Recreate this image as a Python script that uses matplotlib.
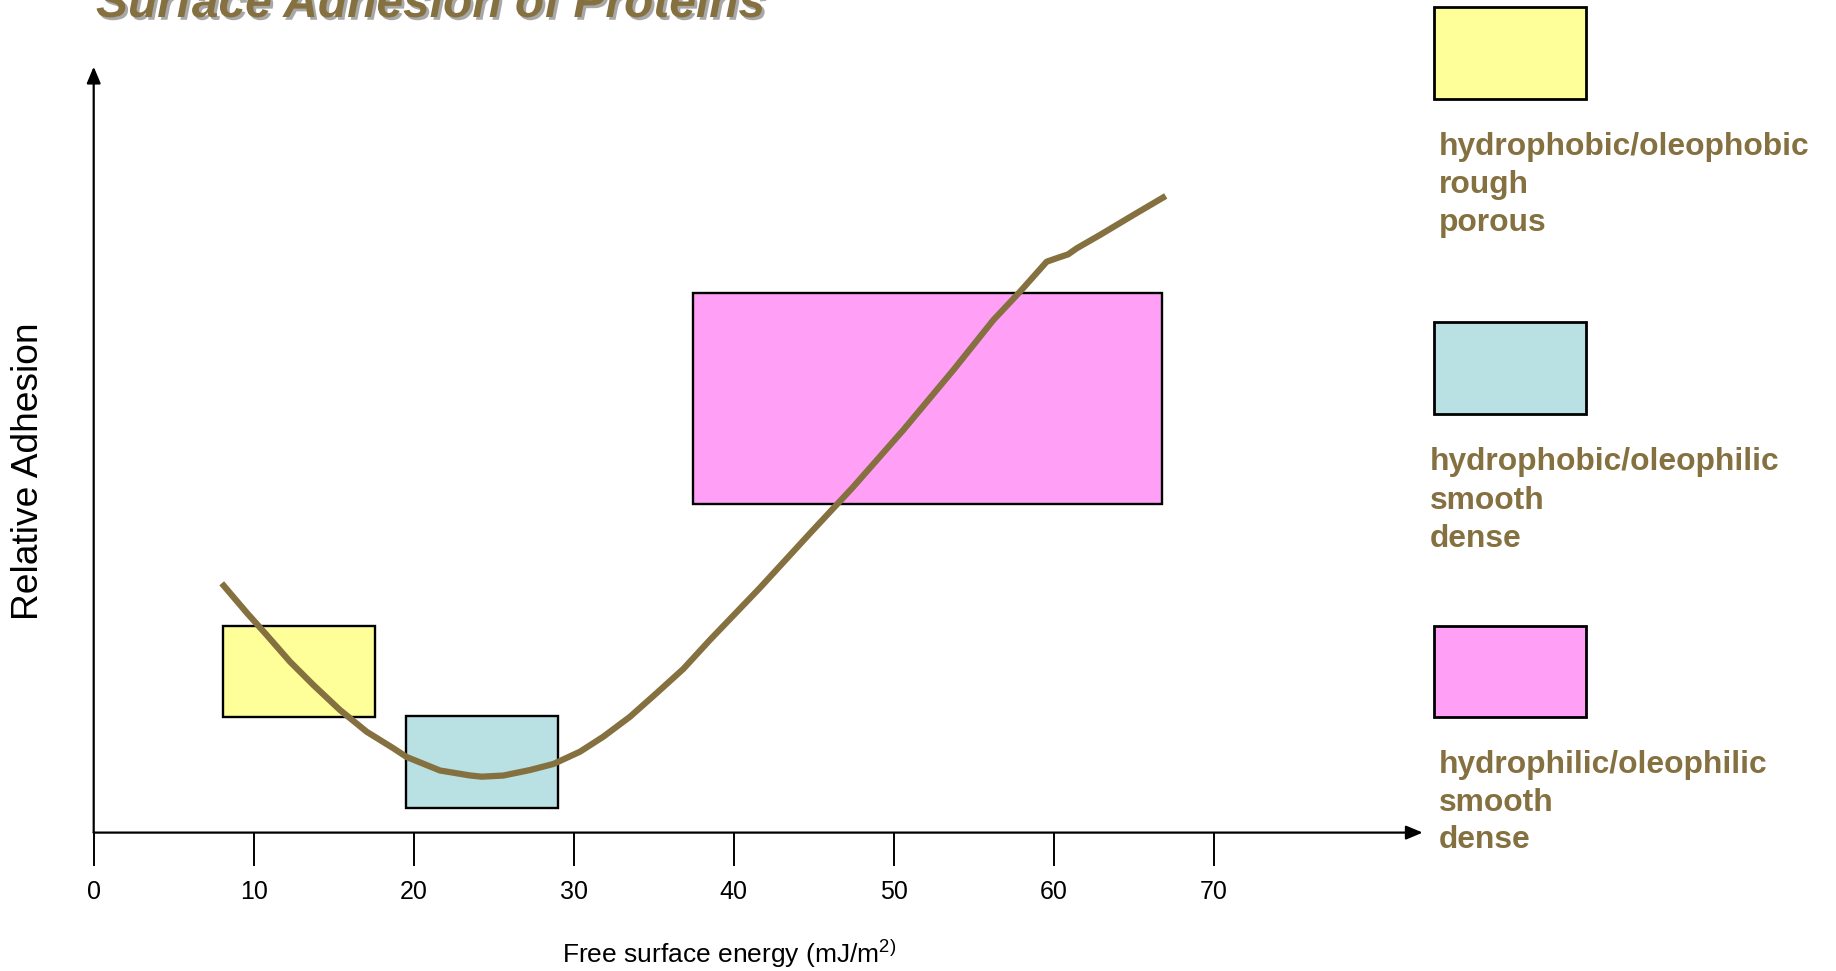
import matplotlib
matplotlib.use('Agg')
import matplotlib.pyplot as plt
from matplotlib.patches import Rectangle
import matplotlib.patheffects as pe

plt.rcParams['font.family'] = ['Liberation Sans', 'DejaVu Sans']
plt.rcParams['mathtext.fontset'] = 'custom'
plt.rcParams['mathtext.rm'] = 'Liberation Sans'
plt.rcParams['mathtext.default'] = 'regular'

# ---------------- data ----------------
curve_energy = [8.0, 9.56, 10.81, 12.27, 13.73, 15.39, 17.06, 18.73, 19.56, 21.64,
                23.52, 24.25, 25.60, 27.27, 28.73, 30.39, 31.85, 33.52, 35.19, 36.85,
                38.52, 41.64, 44.77, 47.48, 50.60, 53.73, 56.23, 57.89, 59.56, 60.19,
                60.9, 61.44, 62.89, 64.98, 67.0]
curve_adhesion = [32.55, 28.72, 25.80, 22.31, 19.27, 16.01, 13.17, 11.01, 9.87, 8.11,
                  7.46, 7.30, 7.45, 8.17, 8.96, 10.56, 12.52, 15.13, 18.23, 21.37,
                  25.17, 31.96, 39.08, 45.16, 52.57, 60.40, 66.93, 70.62, 74.54, 75.0,
                  75.5, 76.29, 78.03, 80.64, 83.12]

region_energy_lo = [8.1, 19.5, 37.44]
region_energy_hi = [17.6, 29.0, 66.75]
region_adh_lo = [15.13, 3.25, 42.87]
region_adh_hi = [27.01, 15.22, 70.41]
region_colors = ['#FFFF99', '#B9E0E3', '#FFA0F6']

legend_lines = [['hydrophobic/oleophobic', 'rough', 'porous'],
                ['hydrophobic/oleophilic', 'smooth', 'dense'],
                ['hydrophilic/oleophilic', 'smooth', 'dense']]

x_ticks = [0, 10, 20, 30, 40, 50, 60, 70]
x_tick_labels = ['0', '10', '20', '30', '40', '50', '60', '70']

title_text = 'Surface Adhesion of Proteins'
x_label = r'Free surface energy (mJ/m$^{2)}$'
y_label = 'Relative Adhesion'

# ---------------- layout ----------------
W, H = 1836, 971
BROWN = '#857040'


def fx(px):
    return px / W


def fy(py):
    return 1 - py / H


fig = plt.figure(figsize=(W / 100, H / 100), dpi=100)
ax = fig.add_axes([fx(93.7), fy(832.6), fx(1422.7) - fx(93.7), fy(66.7) - fy(832.6)])
ax.set_xlim(0, 83.06)
ax.set_ylim(0, 100)
for s in ax.spines.values():
    s.set_visible(False)
ax.patch.set_alpha(0)

# regions
for x0, x1, y0, y1, c in zip(region_energy_lo, region_energy_hi, region_adh_lo,
                             region_adh_hi, region_colors):
    ax.add_patch(Rectangle((x0, y0), x1 - x0, y1 - y0, facecolor=c,
                           edgecolor='black', linewidth=1.7, zorder=2))

# curve
ax.plot(curve_energy, curve_adhesion, color=BROWN, linewidth=4.5,
        solid_joinstyle='round', solid_capstyle='butt', zorder=3)

# axes with arrows
arrow_kw = dict(arrowstyle='-|>,head_length=1.0,head_width=0.42', color='black',
                lw=1.6, mutation_scale=10, shrinkA=0, shrinkB=0)
ax.annotate('', xy=(1, 0), xytext=(0, 0), xycoords='axes fraction',
            arrowprops=arrow_kw, annotation_clip=False, zorder=4)
ax.annotate('', xy=(0, 1), xytext=(0, 0), xycoords='axes fraction',
            arrowprops=arrow_kw, annotation_clip=False, zorder=4)

ax.set_xticks(x_ticks)
ax.set_xticklabels(x_tick_labels, fontsize=18)
ax.set_yticks([])
ax.tick_params(axis='x', direction='out', length=23.4, width=1.4, pad=11.0,
               colors='black')

# axis labels
fig.text(fx(729), fy(963), x_label, fontsize=19, ha='center', va='baseline')
fig.text(fx(29), fy(471), y_label, fontsize=26.7, rotation=90,
         ha='center', va='center')

# title
fig.text(fx(96), fy(17), title_text, fontsize=34.5, weight='bold', style='italic',
         color=BROWN, ha='left', va='baseline',
         path_effects=[pe.SimplePatchShadow(offset=(2, -2), shadow_rgbFace='#A8A8A8',
                                            alpha=1.0), pe.Normal()])

# legend boxes
box_x0, box_x1 = 1433.5, 1586
box_tops = [7.5, 322.5, 626]
box_bottoms = [99, 414, 717]
text_x = [1439, 1430, 1439]
text_baselines = [[155, 193, 230.5], [470, 509, 546.7], [772.7, 811, 848.3]]
for i in range(3):
    fig.add_artist(Rectangle((fx(box_x0), fy(box_bottoms[i])),
                             fx(box_x1) - fx(box_x0),
                             fy(box_tops[i]) - fy(box_bottoms[i]),
                             transform=fig.transFigure, facecolor=region_colors[i],
                             edgecolor='black', linewidth=2.0))
    for line, yb in zip(legend_lines[i], text_baselines[i]):
        fig.text(fx(text_x[i]), fy(yb), line, fontsize=22.9, weight='bold',
                 color=BROWN, ha='left', va='baseline')

fig.savefig('out.png', dpi=100)
